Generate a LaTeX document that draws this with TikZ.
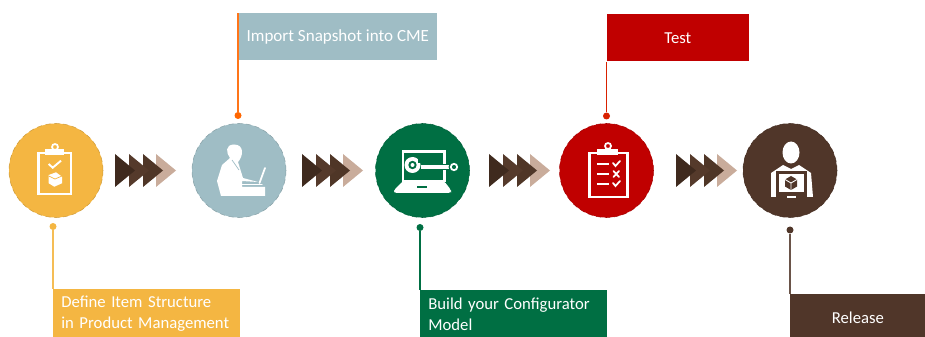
\documentclass[tikz,border=0pt]{standalone}
\usepackage{fontspec}
\setmainfont{Carlito}
\definecolor{stepyellow}{HTML}{F4B642}
\definecolor{stepblue}{HTML}{9FBDC5}
\definecolor{stepgreen}{HTML}{006F43}
\definecolor{stepred}{HTML}{C00000}
\definecolor{stepbrown}{HTML}{503629}
\definecolor{chevone}{HTML}{3F2A1E}
\definecolor{chevtwo}{HTML}{553A2B}
\definecolor{chevthree}{HTML}{4F3627}
\definecolor{chevfour}{HTML}{C9AC9B}
\tikzset{
  stepcircle/.style={circle, minimum size=18.8mm, inner sep=0pt, fill=#1, draw=#1!85!black, densely dashed, line width=0.3pt},
  stepdot/.style={circle, minimum size=1.4mm, inner sep=0pt, fill=#1},
  stepbox/.style={anchor=north west, fill=#1, text=white, inner xsep=1.6mm, inner ysep=0pt, font=\fontsize{9.5}{12}\selectfont},
  stepline/.style={draw=#1, line width=1pt},
  iconline/.style={draw=white, line width=1.7pt, fill=none},
  iconthin/.style={draw=white, line width=1pt, line cap=round, fill=none},
}
\begin{document}
\begin{tikzpicture}[x=0.2mm, y=-0.2mm]
\useasboundingbox (0,0) rectangle (925,337);
% circles
\node[stepcircle=stepyellow] (define) at (56,170.5) {};
\node[stepcircle=stepblue] (import) at (239,170.5) {};
\node[stepcircle=stepgreen] (build) at (422.5,170.5) {};
\node[stepcircle=stepred] (test) at (606.5,170.5) {};
\node[stepcircle=stepbrown] (release) at (790,170.5) {};
% chevrons, the first one lies on top
\foreach \gx in {115,302,489,676} {
  \foreach \dx/\col in {41/chevfour,28/chevthree,14/chevtwo,0/chevone} {
    \fill[\col] ({\gx+\dx},154) -- ({\gx+\dx+20},170.5) -- ({\gx+\dx},187) -- cycle;
  }
}
% text boxes
\node[stepbox=stepyellow, text width=34.2mm, minimum height=9.6mm, align=left] (defineText) at (53,289) {\mbox{Define Item Structure}\\\mbox{in Product Management}};
\node[stepbox=stepblue, inner xsep=0.5mm, minimum width=39.8mm, minimum height=9.4mm, align=center, font=\fontsize{9.7}{12}\selectfont] (importText) at (238,13) {Import Snapshot into CME};
\node[stepbox=stepgreen, text width=34.2mm, minimum height=9.4mm, align=left] (buildText) at (420,290) {\mbox{Build your Configurator}\\Model};
\node[stepbox=stepred, minimum width=28.4mm, minimum height=9.4mm, align=center] (testText) at (606.5,14) {Test};
\node[stepbox=stepbrown, minimum width=27mm, minimum height=9.2mm, align=center] (releaseText) at (790,294) {Release};
% dots and connectors
\node[stepdot=stepyellow] (defineDot) at (53,226.5) {};
\node[stepdot=orange!80!red] (importDot) at (238,115.5) {};
\node[stepdot=stepgreen] (buildDot) at (420,227.5) {};
\node[stepdot=red!70!orange!85!black] (testDot) at (606.5,116) {};
\node[stepdot=stepbrown] (releaseDot) at (790,230) {};
\draw[stepline=stepyellow!90!white] (defineDot) -- (defineText.north west);
\draw[stepline=orange!80!red!90!white] (importDot) -- (importText.north west);
\draw[stepline=stepgreen] (buildDot) -- (buildText.north west);
\draw[stepline=red!70!orange!85!black] (testDot) -- (testText.south west);
\draw[stepline=stepbrown!85!white] (releaseDot) -- (releaseText.north west);
% icon: clipboard with parcel
\draw[iconline] (45,153) -- (38.5,153) -- (38.5,194) -- (71,194) -- (71,153) -- (64,153);
\fill[white] (45,149) rectangle (64,155.5);
\draw[iconthin] (55,147) circle (3);
\draw[iconline, line width=1.1pt] (48.7,164) -- (52.7,167.7) -- (61,160.7);
\fill[white] (48.7,175) -- (56,172.3) -- (62,176.7) -- (62,183.3) -- (54.3,186.7) -- (48.7,183.3) -- cycle;
\draw[stepyellow, line width=0.4pt] (48.7,176) -- (55,179) -- (62,176);
% icon: person at a laptop
\fill[white] (234,144.5) .. controls (225,144.5) and (226,153) .. (230,158) -- (222,165) -- (217,181) -- (221,196) -- (265,196) -- (265,187) -- (242,187) -- (242,181) -- (258,182) -- (243,178) -- (238,162) .. controls (243,157) and (245,144.5) .. (234,144.5) -- cycle;
\draw[stepblue, line width=0.4pt] (232,160) -- (239,170);
\draw[iconthin, line width=0.6pt] (242,184.5) -- (262,184.5);
\draw[iconthin] (265,168) -- (259.5,183);
% icon: laptop with wrench
\draw[iconline] (403,151.5) rectangle (444,181);
\fill[white, rounded corners=1.5pt] (394,193) -- (394,190) -- (403,181) -- (444,181) -- (451,190) -- (451,193) -- cycle;
\fill[stepgreen] (417,186) rectangle (427,188.5);
\draw[stepgreen, line width=3pt] (421,167) -- (450,167);
\draw[white, line width=1.9pt] (421,167) -- (450,167);
\fill[white] (412.5,165) circle (8);
\fill[stepgreen] (412.5,165) circle (4.2);
\fill[white] (412.5,165) circle (2);
\fill[stepgreen] (418,156) -- (424,156) -- (422,163) -- (418,163) -- cycle;
\fill[stepgreen] (454,167) circle (5.5);
\draw[iconthin] (454,167) circle (3.2);
% icon: checklist
\draw[iconline] (597,153) -- (589,153) -- (589,197) -- (627,197) -- (627,153) -- (618,153);
\fill[white] (597,149) rectangle (618,155.5);
\draw[iconthin] (608,146) circle (3);
\foreach \ly in {164,174,184} {
  \draw[iconline] (597,\ly) -- (609,\ly);
}
\draw[iconthin] (613,163) -- (615.5,166) -- (620,161);
\draw[iconthin] (613.5,171) -- (619,177) (619,171) -- (613.5,177);
\draw[iconthin] (613,183) -- (615.5,186) -- (620,181);
% icon: person with a screen
\fill[white] (791,152.5) ellipse (8.5 and 11);
\fill[white] (771,173) -- (783,165) -- (791,169) -- (799,165) -- (811,173) -- (813,197) -- (771,197) -- cycle;
\fill[stepbrown] (776,171) rectangle (807,198);
\fill[white] (779,174.5) rectangle (804,192);
\fill[stepbrown] (791,176) -- (797,179.5) -- (797,186.5) -- (791,190) -- (785,186.5) -- (785,179.5) -- cycle;
\draw[white, line width=0.5pt] (785,179.5) -- (791,183) -- (797,179.5) (791,183) -- (791,190);
\fill[white] (787,196) rectangle (796,198);
\end{tikzpicture}
\end{document}
